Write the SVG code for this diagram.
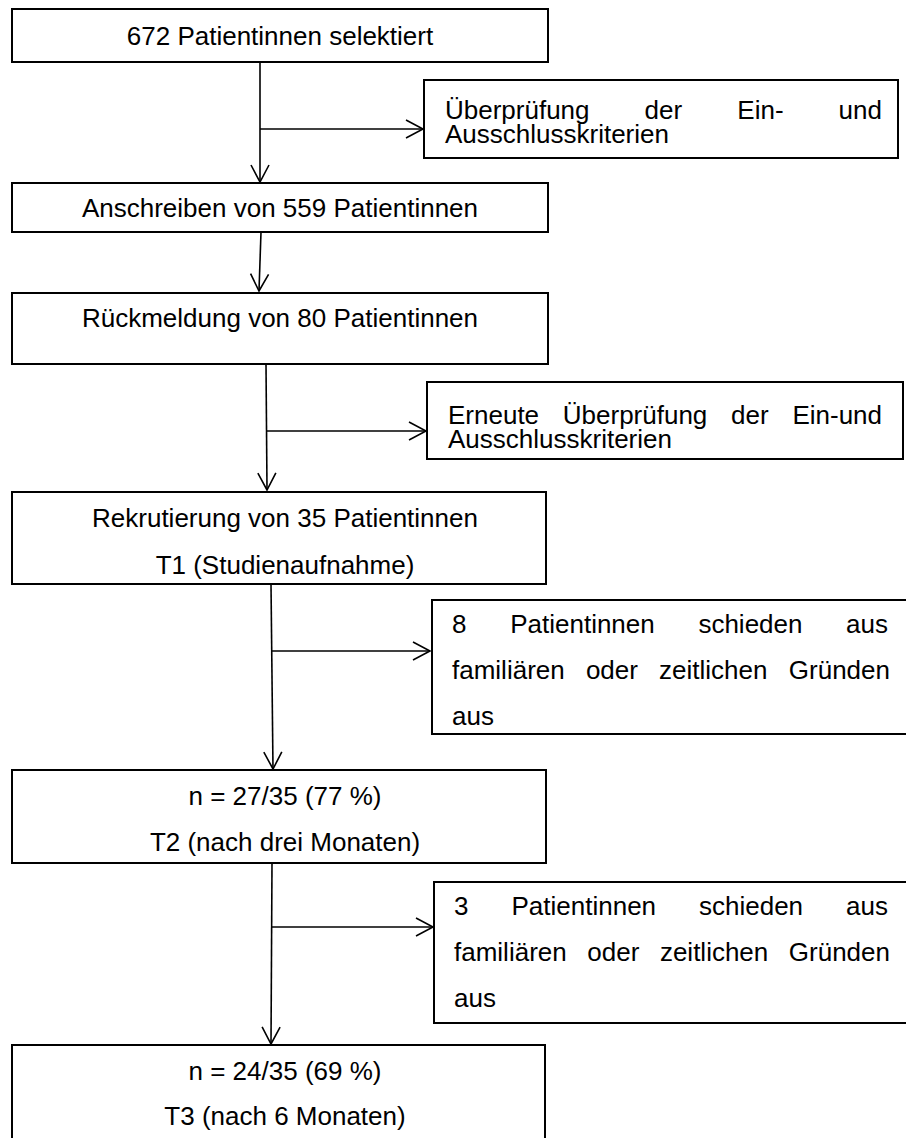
<svg xmlns="http://www.w3.org/2000/svg" width="906" height="1138" viewBox="0 0 906 1138">
<defs>
<style>
.box{fill:#fff;stroke:#000;stroke-width:2}
.t{font-family:"Liberation Sans",Arial,sans-serif;font-size:26px;fill:#000}
.c{text-anchor:middle}
.ln{fill:none;stroke:#000;stroke-width:1.6}
</style>
<marker id="arr" viewBox="-2 -2 22 22" markerWidth="22" markerHeight="22" refX="17" refY="9" orient="auto" markerUnits="userSpaceOnUse">
<path d="M0,0 L17,9 L0,18" fill="none" stroke="#000" stroke-width="1.6"/>
</marker>
</defs>
<rect width="906" height="1138" fill="#fff"/>
<g id="connectors">
<path class="ln" d="M260,62 L260,182" marker-end="url(#arr)"/>
<path class="ln" d="M260,129 L423,129" marker-end="url(#arr)"/>
<path class="ln" d="M261,232 L259,291" marker-end="url(#arr)"/>
<path class="ln" d="M266,364 L267,490" marker-end="url(#arr)"/>
<path class="ln" d="M266,431 L426,431" marker-end="url(#arr)"/>
<path class="ln" d="M271,584 L273,769" marker-end="url(#arr)"/>
<path class="ln" d="M272,651 L430,651" marker-end="url(#arr)"/>
<path class="ln" d="M272,863 L271,1044" marker-end="url(#arr)"/>
<path class="ln" d="M272,927 L433,927" marker-end="url(#arr)"/>
</g>
<g id="n1">
<rect class="box" x="12" y="9" width="536" height="53"/>
<text class="t c" x="280" y="45">672 Patientinnen selektiert</text>
</g>
<g id="s1">
<rect class="box" x="424" y="80" width="474" height="78"/>
<text class="t" y="119"><tspan x="445">Überprüfung</tspan> <tspan x="644.6">der</tspan> <tspan x="737.3">Ein-</tspan> <tspan x="838.6">und</tspan></text>
<text class="t" x="445" y="143">Ausschlusskriterien</text>
</g>
<g id="n2">
<rect class="box" x="12" y="183" width="536" height="49"/>
<text class="t c" x="280" y="217">Anschreiben von 559 Patientinnen</text>
</g>
<g id="n3">
<rect class="box" x="12" y="293" width="536" height="71"/>
<text class="t c" x="280" y="327">Rückmeldung von 80 Patientinnen</text>
</g>
<g id="s2">
<rect class="box" x="427" y="382" width="476" height="77"/>
<text class="t" y="424"><tspan x="448">Erneute</tspan> <tspan x="562.8">Überprüfung</tspan> <tspan x="731">der</tspan> <tspan x="792.4">Ein-und</tspan></text>
<text class="t" x="448" y="448">Ausschlusskriterien</text>
</g>
<g id="n4">
<rect class="box" x="12" y="492" width="534" height="92"/>
<text class="t c" x="285" y="527">Rekrutierung von 35 Patientinnen</text>
<text class="t c" x="285" y="574">T1 (Studienaufnahme)</text>
</g>
<g id="s3">
<rect class="box" x="432" y="600" width="490" height="134"/>
<text class="t" y="633"><tspan x="452">8</tspan> <tspan x="510.2">Patientinnen</tspan> <tspan x="698.4">schieden</tspan> <tspan x="846.1">aus</tspan></text>
<text class="t" y="679"><tspan x="452">familiären</tspan> <tspan x="585.9">oder</tspan> <tspan x="659.1">zeitlichen</tspan> <tspan x="788.8">Gründen</tspan></text>
<text class="t" x="452" y="725">aus</text>
</g>
<g id="n5">
<rect class="box" x="12" y="770" width="534" height="93"/>
<text class="t c" x="285" y="805">n = 27/35 (77 %)</text>
<text class="t c" x="285" y="851">T2 (nach drei Monaten)</text>
</g>
<g id="s4">
<rect class="box" x="434" y="882" width="490" height="141"/>
<text class="t" y="915"><tspan x="454">3</tspan> <tspan x="511.5">Patientinnen</tspan> <tspan x="699">schieden</tspan> <tspan x="846.1">aus</tspan></text>
<text class="t" y="961"><tspan x="454">familiären</tspan> <tspan x="587.3">oder</tspan> <tspan x="659.9">zeitlichen</tspan> <tspan x="788.8">Gründen</tspan></text>
<text class="t" x="454" y="1007">aus</text>
</g>
<g id="n6">
<rect class="box" x="12" y="1045" width="533" height="110"/>
<text class="t c" x="285" y="1080">n = 24/35 (69 %)</text>
<text class="t c" x="285" y="1125">T3 (nach 6 Monaten)</text>
</g>
</svg>
